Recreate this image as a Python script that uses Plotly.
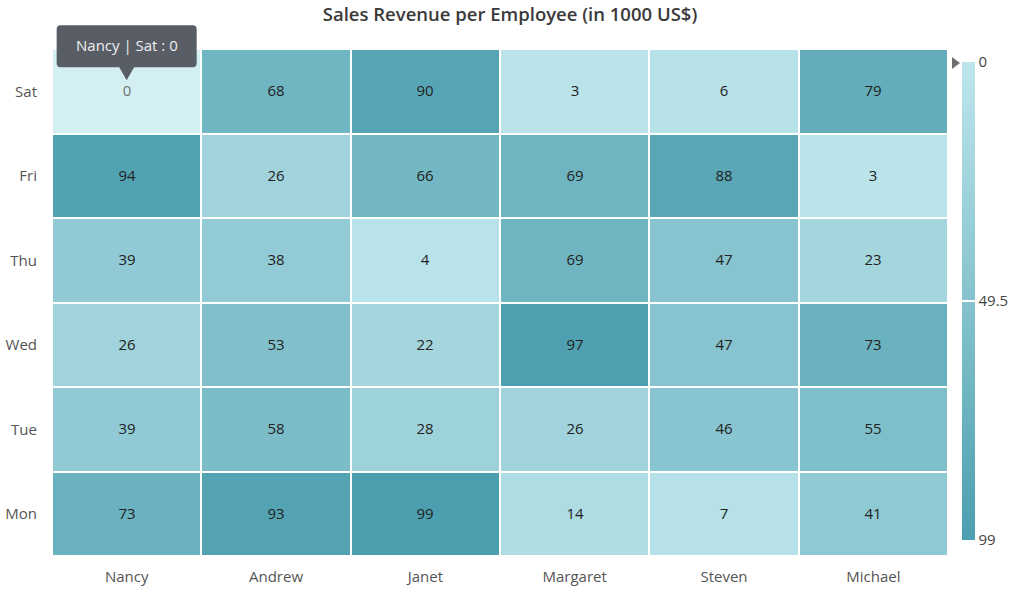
import plotly.graph_objects as go

employees = ["Nancy", "Andrew", "Janet", "Margaret", "Steven", "Michael"]
days = ["Mon", "Tue", "Wed", "Thu", "Fri", "Sat"]
mon = [73, 93, 99, 14, 7, 41]
tue = [39, 58, 28, 26, 46, 55]
wed = [26, 53, 22, 97, 47, 73]
thu = [39, 38, 4, 69, 47, 23]
fri = [94, 26, 66, 69, 88, 3]
sat = [0, 68, 90, 3, 6, 79]
rows = [mon, tue, wed, thu, fri, sat]
zmin, zmax = 0, 99
tick_vals = [0, 49.5, 99]

LIGHT = "#BEE6EC"
DARK = "#4C9FAF"
FONT = "Segoe UI, Open Sans, sans-serif"

W, H = 1020, 597
ML, MR, MT, MB = 52, 72, 49, 41
PW, PH = W - ML - MR, H - MT - MB

neg = [[-v for v in r] for r in rows]
txt = [[str(v) for v in r] for r in rows]

fig = go.Figure(go.Heatmap(
    x=employees, y=days, z=neg, text=txt,
    texttemplate="%{text}", textfont=dict(family=FONT, size=15, color="#222"),
    zmin=-zmax, zmax=-zmin,
    colorscale=[[0, DARK], [1, LIGHT]],
    xgap=2, ygap=2, hoverinfo="skip",
    colorbar=dict(
        thickness=13, len=478, lenmode="pixels",
        xref="container", x=962 / W, xanchor="left", xpad=0,
        yref="container", y=1 - (MT + PH / 2 + 51.5) / H, yanchor="middle", ypad=0,
        outlinewidth=0,
        tickvals=[-t for t in tick_vals], ticktext=[f"{t:g}" for t in tick_vals],
        ticks="inside", ticklen=13, tickcolor="white", tickwidth=1.5,
        ticklabeloverflow="allow",
        tickfont=dict(family=FONT, size=15, color="#444"),
    ),
))

# hover highlight on Nancy | Sat cell
cx = (0.5 / 6)
cy = (5.5 / 6)
fig.add_shape(type="rect", xref="paper", yref="paper",
              x0=0, x1=1 / 6, y0=5 / 6, y1=1,
              fillcolor="white", opacity=0.35, line_width=0, layer="above")

# tooltip
tip_fill = "#585d66"
fig.add_shape(type="path", xref="paper", yref="paper",
              xsizemode="pixel", ysizemode="pixel", xanchor=cx, yanchor=cy,
              path="M -66,24 L 66,24 Q 70,24 70,28 L 70,62 Q 70,66 66,66 L -66,66 Q -70,66 -70,62 L -70,28 Q -70,24 -66,24 Z",
              fillcolor=tip_fill, line_width=0, layer="above")
fig.add_shape(type="path", xref="paper", yref="paper",
              xsizemode="pixel", ysizemode="pixel", xanchor=cx, yanchor=cy,
              path="M -8,25 L 8,25 L 0,11 Z",
              fillcolor=tip_fill, line_width=0, layer="above")
fig.add_annotation(xref="paper", yref="paper", x=cx, y=cy, yshift=46,
                   xanchor="center", yanchor="middle",
                   text="Nancy | Sat : 0", showarrow=False,
                   font=dict(family=FONT, size=15, color="#f0f0f0"))

# colorbar pointer
fig.add_shape(type="path", xref="paper", yref="paper",
              xsizemode="pixel", ysizemode="pixel", xanchor=1.0, yanchor=1 - 14 / PH,
              path="M 4,6 L 12,0 L 4,-6 Z",
              fillcolor="#707070", line_width=0, layer="above")

fig.update_layout(
    width=W, height=H,
    margin=dict(l=ML, r=MR, t=MT, b=MB, autoexpand=False),
    paper_bgcolor="white", plot_bgcolor="white",
    title=dict(text="Sales Revenue per Employee (in 1000 US$)", x=0.5, xanchor="center",
               y=1 - 15 / H, yanchor="middle",
               font=dict(family=FONT, size=18.5, color="#3a3a3a", weight=600)),
    xaxis=dict(showgrid=False, zeroline=False, ticks="", ticklabelstandoff=10,
               tickfont=dict(family=FONT, size=15, color="#555")),
    yaxis=dict(showgrid=False, zeroline=False, ticks="", ticklabelstandoff=14,
               tickfont=dict(family=FONT, size=15, color="#555")),
    showlegend=False,
)

fig.write_html("out.html")
